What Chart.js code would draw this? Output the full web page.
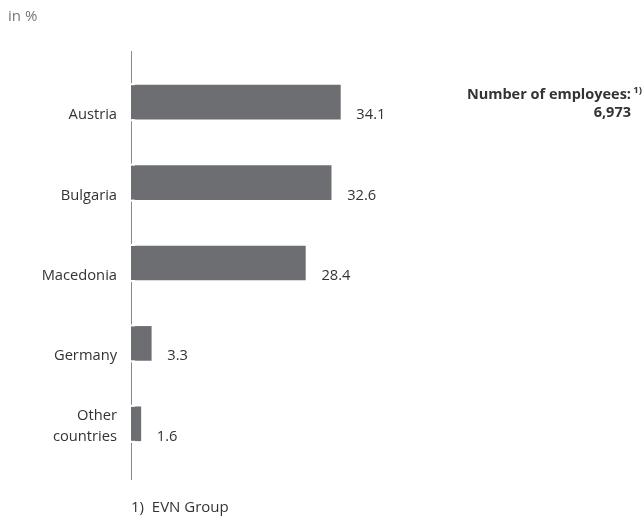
<!DOCTYPE html>
<html>
<head>
<meta charset="utf-8">
<script src="https://cdn.jsdelivr.net/npm/chart.js@4"></script>
<style>
  body { margin: 0; background: #fff; }
  #wrap { position: relative; width: 642px; height: 518px; font-family: "Open Sans", sans-serif; color: #333; }
  canvas { position: absolute; left: 0; top: 0; }
  .unit { position: absolute; left: 8px; top: 5px; font-size: 15px; color: #777; }
  .total { position: absolute; right: 11px; top: 85px; text-align: right; font-weight: bold; font-size: 14.5px; line-height: 18px; }
  .total sup { position: absolute; right: -11px; top: -4px; font-size: 9.5px; }
  .note { position: absolute; left: 131px; top: 496px; font-size: 15px; }
</style>
</head>
<body>
<div id="wrap">
  <canvas id="barChart" width="642" height="518"></canvas>
  <div class="unit">in %</div>
  <div class="total">Number of employees:<sup>1)</sup><br>6,973</div>
  <div class="note">1)&nbsp; EVN Group</div>
</div>
<script>
// categories and values (share of employees in %)
const countries = [['Austria'], ['Bulgaria'], ['Macedonia'], ['Germany'], ['Other', 'countries']];
const shares = [34.1, 32.6, 28.4, 3.3, 1.6];
const shareLabels = ['34.1', '32.6', '28.4', '3.3', '1.6'];

const barColor = '#6d6e72';
const textColor = '#333';

// axis line, gaps next to the bars and the labels
const labelsPlugin = {
    id: 'labelsPlugin',
    beforeDatasetsDraw(chart) {
        const ctx = chart.ctx;
        ctx.save();
        ctx.strokeStyle = '#8a8a8a';
        ctx.lineWidth = 1;
        ctx.beginPath();
        ctx.moveTo(131.5, 51);
        ctx.lineTo(131.5, 480);
        ctx.stroke();
        ctx.restore();
    },
    afterDatasetsDraw(chart) {
        const ctx = chart.ctx;
        const bars = chart.getDatasetMeta(0).data;
        ctx.save();
        bars.forEach((bar, i) => {
            const top = bar.y - bar.height / 2;
            const bottom = bar.y + bar.height / 2;
            // white gap in the axis line above and below each bar
            ctx.fillStyle = '#fff';
            ctx.fillRect(bar.base - 2, top - 2, 6, 2);
            ctx.fillRect(bar.base - 2, bottom, 6, 2);

            ctx.font = '14.7px "Open Sans"';
            ctx.fillStyle = textColor;
            ctx.textBaseline = 'alphabetic';

            // category names, last line at bar bottom
            const lines = countries[i];
            ctx.textAlign = 'right';
            lines.forEach((line, k) => {
                const y = bar.y + 17 - (lines.length - 1 - k) * 21;
                ctx.fillText(line, 117, y);
            });

            // value next to the bar
            ctx.textAlign = 'left';
            ctx.fillText(shareLabels[i], bar.x + 16, bar.y + 17);
        });
        ctx.restore();
    }
};

const ctx = document.getElementById('barChart').getContext('2d');
const barChart = new Chart(ctx, {
    type: 'bar',
    data: {
        labels: countries.map(c => c.join(' ')),
        datasets: [{
            data: shares,
            backgroundColor: barColor,
            borderWidth: 0,
            barThickness: 34
        }]
    },
    options: {
        indexAxis: 'y',
        responsive: false,
        animation: false,
        devicePixelRatio: 1,
        layout: {
            padding: { left: 131, top: 62, bottom: 54, right: 204 }
        },
        plugins: {
            legend: { display: false },
            tooltip: { enabled: false }
        },
        scales: {
            x: {
                display: false,
                min: 0,
                max: 50
            },
            y: {
                display: false
            }
        }
    },
    plugins: [labelsPlugin]
});
</script>
</body>
</html>
